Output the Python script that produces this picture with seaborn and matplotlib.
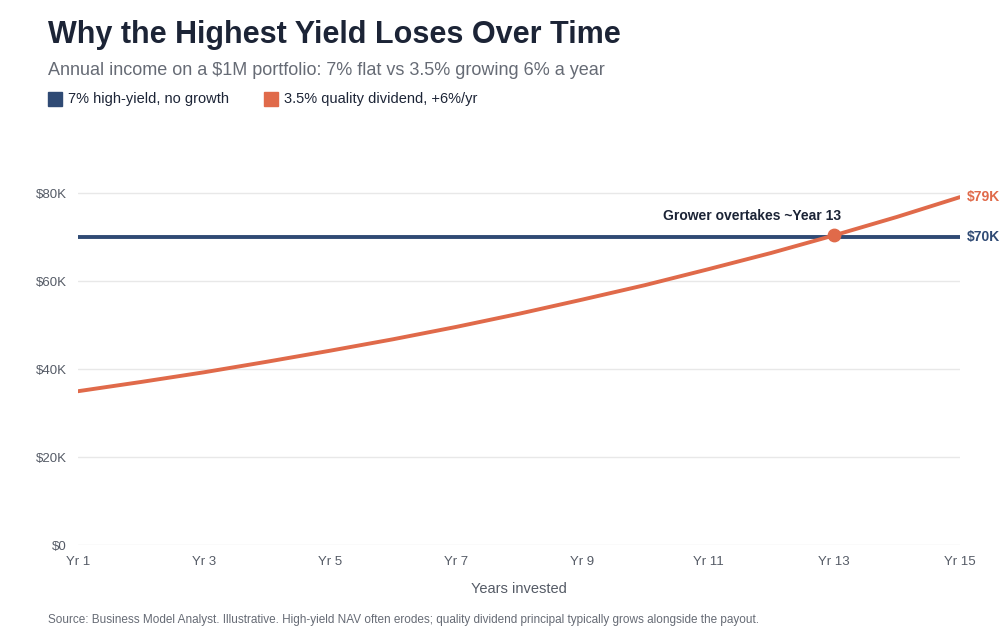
import matplotlib
matplotlib.use('Agg')
import matplotlib.pyplot as plt
import seaborn as sns
import pandas as pd

# Data (annual income, $K)
years = list(range(1, 16))
flat_income = [70.0] * 15
growing_income = [35.0, 37.1, 39.3, 41.7, 44.2, 46.8, 49.6, 52.6, 55.8, 59.1,
                  62.7, 66.4, 70.4, 74.6, 79.1]
tick_years = [1, 3, 5, 7, 9, 11, 13, 15]
tick_labels = ['Yr ' + str(y) for y in tick_years]

navy = '#2f4a74'
orange = '#e06a4a'

sns.set_style('white')
plt.rcParams['font.family'] = ['Liberation Sans', 'DejaVu Sans']

df = pd.DataFrame({'year': years, 'flat': flat_income, 'grow': growing_income})

fig = plt.figure(figsize=(10, 6.4), dpi=100)
ax = fig.add_axes([0.078, 0.148, 0.882, 0.619])

sns.lineplot(data=df, x='year', y='flat', color=navy, linewidth=2.8, ax=ax)
sns.lineplot(data=df, x='year', y='grow', color=orange, linewidth=2.8, ax=ax)
ax.scatter([13], [growing_income[12]], s=80, color=orange, zorder=5)
ax.text(11.7, 73.2, 'Grower overtakes ~Year 13', ha='center', va='bottom',
        fontsize=10, fontweight='bold', color='#1c2436')

ax.text(15.1, flat_income[-1], '$70K', color=navy, fontsize=10, fontweight='bold',
        va='center', ha='left')
ax.text(15.1, growing_income[-1], '$79K', color=orange, fontsize=10, fontweight='bold',
        va='center', ha='left')

ax.set_xlim(1, 15)
ax.set_ylim(0, 90)
ax.set_yticks([0, 20, 40, 60, 80])
ax.set_yticklabels(['$0', '$20K', '$40K', '$60K', '$80K'])
ax.set_xticks(tick_years)
ax.set_xticklabels(tick_labels)
ax.tick_params(colors='#555b66', labelsize=9.5, length=0, pad=8)
ax.grid(axis='y', color='#e8e8e8', linewidth=1)
for s in ax.spines.values():
    s.set_visible(False)
ax.set_xlabel('Years invested', color='#555b66', fontsize=10.5, labelpad=10)
ax.set_ylabel('')

fig.text(0.048, 0.945, 'Why the Highest Yield Loses Over Time', fontsize=22,
         fontweight='bold', color='#1c2436', va='center')
fig.text(0.048, 0.89, 'Annual income on a $1M portfolio: 7% flat vs 3.5% growing 6% a year',
         fontsize=13, color='#666b75', va='center')

# legend
fig.patches.append(plt.Rectangle((0.048, 0.834), 0.014, 0.022, color=navy,
                                 transform=fig.transFigure, figure=fig))
fig.text(0.068, 0.845, '7% high-yield, no growth', fontsize=10.5, color='#1c2436', va='center')
fig.patches.append(plt.Rectangle((0.264, 0.834), 0.014, 0.022, color=orange,
                                 transform=fig.transFigure, figure=fig))
fig.text(0.284, 0.845, '3.5% quality dividend, +6%/yr', fontsize=10.5, color='#1c2436', va='center')

fig.text(0.048, 0.031, 'Source: Business Model Analyst. Illustrative. High-yield NAV often erodes; '
         'quality dividend principal typically grows alongside the payout.',
         fontsize=8.5, color='#666b75', va='center')

fig.savefig('out.png', dpi=100)
